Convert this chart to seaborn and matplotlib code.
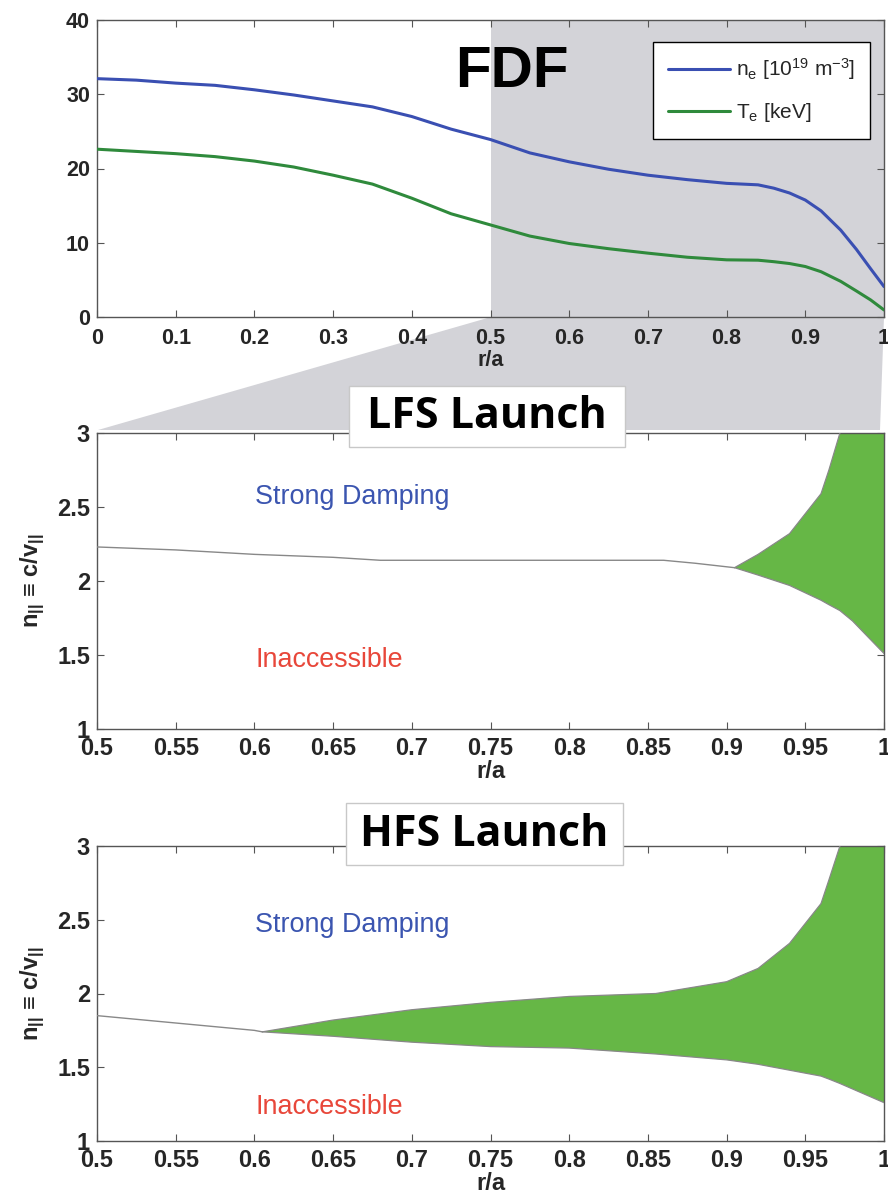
import matplotlib
matplotlib.use('Agg')
import matplotlib.pyplot as plt
import seaborn as sns
import numpy as np
import pandas as pd
from matplotlib.patches import Polygon, Rectangle
from matplotlib.lines import Line2D

# ---------------- data ----------------
r_prof = [0.0, 0.05, 0.1, 0.15, 0.2, 0.25, 0.3, 0.35, 0.4, 0.45, 0.5, 0.55, 0.6,
          0.65, 0.7, 0.75, 0.8, 0.84, 0.86, 0.88, 0.9, 0.92, 0.945, 0.965, 0.983, 1.0]
ne = [32.1, 31.9, 31.5, 31.2, 30.6, 29.9, 29.1, 28.3, 27.0, 25.3, 23.9, 22.1, 20.9,
      19.9, 19.1, 18.5, 18.0, 17.8, 17.35, 16.7, 15.75, 14.3, 11.7, 9.1, 6.5, 4.1]
te = [22.6, 22.3, 22.0, 21.6, 21.0, 20.2, 19.1, 17.9, 16.0, 13.9, 12.4, 10.9, 9.9,
      9.2, 8.6, 8.05, 7.7, 7.65, 7.45, 7.2, 6.8, 6.1, 4.8, 3.5, 2.3, 0.95]

# LFS launch
lfs_line_r = [0.5, 0.55, 0.6, 0.65, 0.68, 0.75, 0.8, 0.86, 0.88, 0.905]
lfs_line_n = [2.23, 2.21, 2.18, 2.16, 2.14, 2.14, 2.14, 2.14, 2.12, 2.09]
lfs_win_r = [0.905, 0.92, 0.94, 0.96, 0.965, 0.972, 0.98, 1.0]
lfs_win_up = [2.09, 2.18, 2.32, 2.59, 2.75, 3.0, 3.3, 3.6]
lfs_win_lo = [2.09, 2.04, 1.97, 1.87, 1.84, 1.80, 1.73, 1.51]

# HFS launch
hfs_line_r = [0.5, 0.55, 0.6, 0.605]
hfs_line_n = [1.85, 1.80, 1.75, 1.74]
hfs_win_r = [0.605, 0.65, 0.7, 0.75, 0.8, 0.855, 0.9, 0.92, 0.94, 0.96, 0.965, 0.972, 1.0]
hfs_win_up = [1.74, 1.82, 1.89, 1.94, 1.98, 2.0, 2.08, 2.17, 2.34, 2.61, 2.77, 3.0, 3.6]
hfs_win_lo = [1.74, 1.71, 1.67, 1.64, 1.63, 1.59, 1.55, 1.52, 1.48, 1.44, 1.42, 1.39, 1.26]

top_xticks = [0, 0.1, 0.2, 0.3, 0.4, 0.5, 0.6, 0.7, 0.8, 0.9, 1.0]
top_xlabels = ['0', '0.1', '0.2', '0.3', '0.4', '0.5', '0.6', '0.7', '0.8', '0.9', '1']
top_yticks = [0, 10, 20, 30, 40]
low_xticks = [0.5, 0.55, 0.6, 0.65, 0.7, 0.75, 0.8, 0.85, 0.9, 0.95, 1.0]
low_xlabels = ['0.5', '0.55', '0.6', '0.65', '0.7', '0.75', '0.8', '0.85', '0.9', '0.95', '1']
low_yticks = [1, 1.5, 2, 2.5, 3]
low_ylabels = ['1', '1.5', '2', '2.5', '3']

# ---------------- style ----------------
sns.set_theme(style='white')
plt.rcParams['font.family'] = ['Liberation Sans', 'DejaVu Sans']
plt.rcParams['mathtext.default'] = 'regular'

BLUE = '#3a4fb2'
GREEN_LINE = '#2f8a3c'
FILL = '#66b746'
GRAY = '#d3d3d8'
SPINE = '#555555'

W, H = 888, 1199
fig = plt.figure(figsize=(W / 100, H / 100), dpi=100)


def rect(l, t, r, b):
    return [l / W, 1 - b / H, (r - l) / W, (b - t) / H]


ax1 = fig.add_axes(rect(97, 20, 884, 317))
ax2 = fig.add_axes(rect(97, 433, 884, 729))
ax3 = fig.add_axes(rect(97, 846, 884, 1141))

# zoom trapezoid (figure-level, behind axes)
pts = [(491, 317), (884, 317), (880, 430), (98, 430)]
poly = Polygon([(x / W, 1 - y / H) for x, y in pts], closed=True,
               transform=fig.transFigure, facecolor=GRAY, edgecolor='none', zorder=-5)
fig.patches.append(poly)


def style_axes(ax, fs):
    for s in ax.spines.values():
        s.set_color(SPINE)
        s.set_linewidth(1.0)
        s.set_visible(True)
    ax.tick_params(direction='in', length=5, width=0.8, color=SPINE,
                   top=True, right=True, bottom=True, left=True,
                   labelsize=fs, pad=5)
    for lab in ax.get_xticklabels() + ax.get_yticklabels():
        lab.set_fontweight('bold')


# ---------------- top panel ----------------
ax1.axvspan(0.5, 1.0, color=GRAY, zorder=0, lw=0)
prof = pd.DataFrame({'r': r_prof, 'ne': ne, 'te': te})
sns.lineplot(data=prof, x='r', y='ne', ax=ax1, color=BLUE, lw=2.2, zorder=3,
             solid_joinstyle='round', solid_capstyle='round')
sns.lineplot(data=prof, x='r', y='te', ax=ax1, color=GREEN_LINE, lw=2.2, zorder=3,
             solid_joinstyle='round', solid_capstyle='round')
ax1.set_xlim(0, 1)
ax1.set_ylim(0, 40)
ax1.set_xticks(top_xticks)
ax1.set_xticklabels(top_xlabels)
ax1.set_yticks(top_yticks)
ax1.set_ylabel('')
ax1.set_xlabel('r/a', fontsize=15.5, fontweight='bold')
ax1.xaxis.set_label_coords(0.5, -0.11)
style_axes(ax1, 15.5)
ax1.tick_params(axis='x', pad=8)

handles = [Line2D([], [], color=BLUE, lw=2.2), Line2D([], [], color=GREEN_LINE, lw=2.2)]
leg = ax1.legend(handles, [r'n$_e$ [10$^{19}$ m$^{-3}$]', r'T$_e$ [keV]'],
                 loc='upper right', bbox_to_anchor=(870 / W, 1 - 42 / H),
                 bbox_transform=fig.transFigure, fontsize=15, frameon=True,
                 fancybox=False, borderaxespad=0, handlelength=3.0,
                 handletextpad=0.3, labelspacing=0.9, borderpad=0.7)
leg.get_frame().set_edgecolor('black')
leg.get_frame().set_linewidth(1.0)
leg.get_frame().set_facecolor('white')
leg.get_frame().set_alpha(1)

fig.text(512 / W, 1 - 72 / H, 'FDF', fontsize=42, fontweight='bold',
         ha='center', va='center', color='black')


# ---------------- lower panels ----------------
def lower_panel(ax, line_r, line_n, win_r, win_up, win_lo, sd_y, ina_y, title, box):
    ax.set_facecolor('white')
    ldf = pd.DataFrame({'r': line_r, 'n': line_n})
    sns.lineplot(data=ldf, x='r', y='n', ax=ax, color='#888888', lw=1.0, zorder=3)
    ax.fill_between(win_r, win_lo, win_up, facecolor=FILL, edgecolor='none', zorder=2)
    wdf = pd.DataFrame({'r': win_r, 'up': win_up, 'lo': win_lo})
    sns.lineplot(data=wdf, x='r', y='up', ax=ax, color='#888888', lw=0.9, zorder=3)
    sns.lineplot(data=wdf, x='r', y='lo', ax=ax, color='#888888', lw=0.9, zorder=3)
    ax.set_xlim(0.5, 1.0)
    ax.set_ylim(1, 3)
    ax.set_xticks(low_xticks)
    ax.set_xticklabels(low_xlabels)
    ax.set_yticks(low_yticks)
    ax.set_yticklabels(low_ylabels)
    ax.set_xlabel('r/a', fontsize=17, fontweight='bold')
    ax.xaxis.set_label_coords(0.5, -0.105)
    ax.set_ylabel('n$_{||}$ ≡ c/v$_{||}$', fontsize=17, fontweight='bold')
    ax.yaxis.set_label_coords(-0.063, 0.5)
    style_axes(ax, 17)
    ax.tick_params(axis='x', pad=6)
    ax.text(0.6004, sd_y, 'Strong Damping', color='#3b55b0', fontsize=19.4,
            ha='left', va='baseline', zorder=4)
    ax.text(0.6004, ina_y, 'Inaccessible', color='#e8473a', fontsize=19.4,
            ha='left', va='baseline', zorder=4)
    l, t, r, b = box
    fig.patches.append(Rectangle((l / W, 1 - b / H), (r - l) / W, (b - t) / H,
                                 transform=fig.transFigure, facecolor='white',
                                 edgecolor='#c8c8c8', lw=1.0, zorder=5))
    fig.text((l + r) / 2 / W, 1 - (t + b) / 2 / H, title, fontsize=31,
             fontweight='bold', family=['Open Sans', 'DejaVu Sans'],
             ha='center', va='center', color='black', zorder=6)


lower_panel(ax2, lfs_line_r, lfs_line_n, lfs_win_r, lfs_win_up, lfs_win_lo,
            2.52, 1.42, 'LFS Launch', (349, 386, 625, 447))
lower_panel(ax3, hfs_line_r, hfs_line_n, hfs_win_r, hfs_win_up, hfs_win_lo,
            2.42, 1.18, 'HFS Launch', (346, 803, 623, 865))

fig.savefig('out.png', dpi=100)
